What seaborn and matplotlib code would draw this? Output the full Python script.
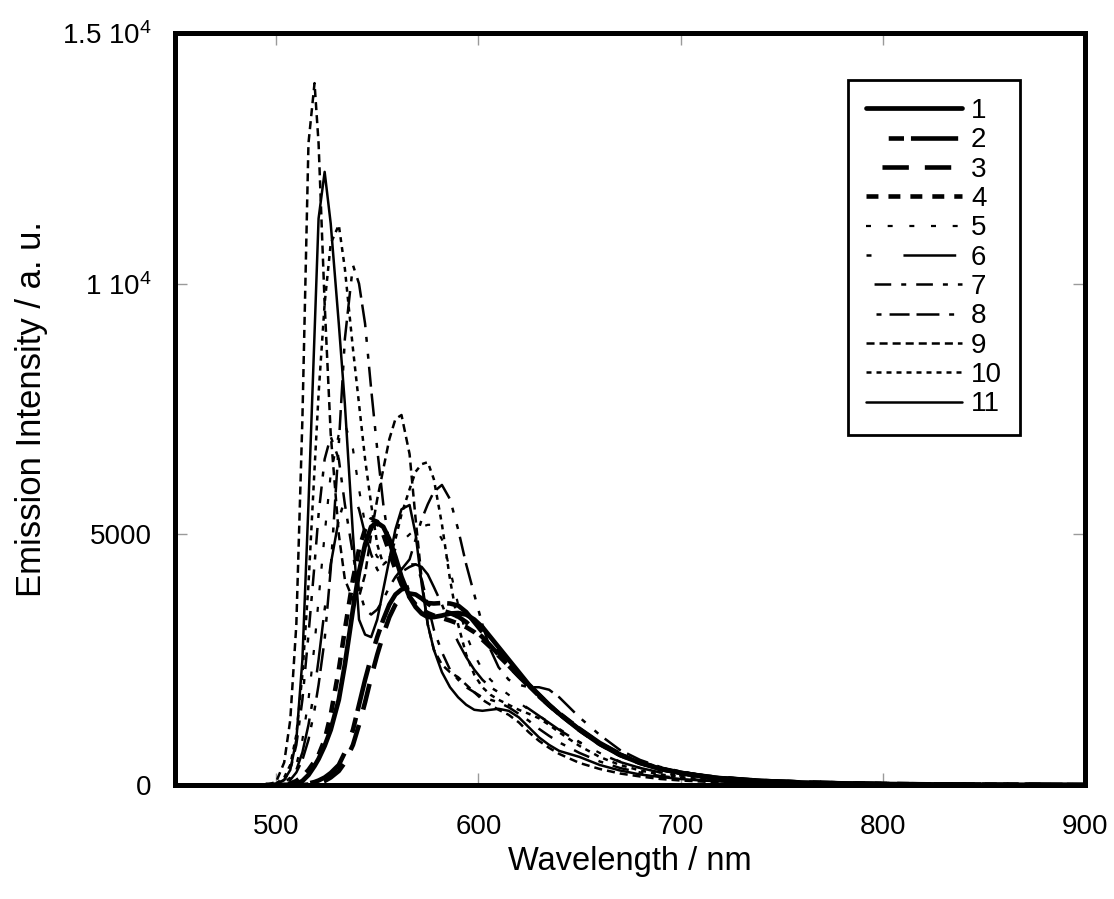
import matplotlib
matplotlib.use("Agg")
import matplotlib.pyplot as plt
import seaborn as sns

# ---------------- data ----------------
wavelength = [495, 500, 504, 507, 510, 513, 516, 519, 521, 524,
              527, 531, 534, 538, 541, 544, 547, 550, 553, 556,
              559, 562, 566, 569, 572, 575, 578, 582, 586, 590,
              594, 598, 602, 606, 610, 615, 620, 625, 630, 635,
              640, 650, 660, 670, 680, 690, 700, 710, 720, 740,
              760, 780, 800, 830, 860, 900]

c1 = [0, 0, 0, 0, 20, 80, 200, 380, 520, 780,
      1100, 1700, 2400, 3500, 4250, 4800, 5150, 5230, 5150, 4900,
      4550, 4150, 3750, 3550, 3420, 3350, 3350, 3380, 3420, 3430,
      3400, 3300, 3150, 2950, 2750, 2500, 2250, 2000, 1800, 1600,
      1420, 1100, 820, 600, 440, 320, 240, 180, 135, 80,
      50, 32, 20, 10, 5, 0]

c2 = [0, 0, 0, 0, 0, 10, 30, 60, 90, 150,
      240, 400, 650, 1100, 1600, 2100, 2550, 2950, 3300, 3600,
      3800, 3900, 3950, 3850, 3700, 3630, 3620, 3630, 3620, 3580,
      3450, 3250, 3050, 2850, 2650, 2420, 2200, 1990, 1790, 1600,
      1430, 1120, 840, 620, 450, 330, 245, 185, 140, 82,
      50, 32, 20, 10, 5, 0]

c3 = [0, 0, 0, 0, 0, 0, 10, 25, 40, 80,
      150, 280, 450, 800, 1200, 1650, 2150, 2600, 3000, 3350,
      3600, 3750, 3820, 3800, 3720, 3620, 3540, 3480, 3430, 3360,
      3250, 3100, 2950, 2780, 2600, 2380, 2170, 1970, 1770, 1590,
      1420, 1110, 830, 610, 445, 325, 240, 180, 135, 80,
      50, 32, 20, 10, 5, 0]

c4 = [0, 0, 10, 30, 80, 170, 300, 470, 600, 900,
      1400, 2300, 3100, 4100, 4700, 5100, 5300, 5250, 5000, 4650,
      4300, 4000, 3750, 3600, 3500, 3430, 3380, 3330, 3280, 3220,
      3150, 3050, 2900, 2750, 2580, 2380, 2180, 1980, 1780, 1590,
      1420, 1100, 820, 600, 440, 320, 240, 180, 135, 80,
      50, 32, 20, 10, 5, 0]

c5 = [0, 10, 50, 150, 400, 900, 1700, 2800, 3700, 5000,
      6200, 7000, 7200, 6700, 5900, 5200, 4800, 4550, 4500, 4550,
      4700, 4850, 5000, 5100, 5150, 5190, 5190, 4900, 4300, 3600,
      3000, 2600, 2300, 2100, 1950, 1800, 1650, 1500, 1380, 1250,
      1120, 860, 640, 470, 340, 250, 185, 140, 105, 62,
      38, 24, 15, 8, 4, 0]

c6 = [0, 10, 40, 120, 300, 650, 1200, 1900, 2500, 3500,
      4400, 5300, 5700, 5800, 5500, 5000, 4600, 4300, 4150, 4100,
      4150, 4250, 4350, 4400, 4350, 4200, 3950, 3600, 3200, 2850,
      2550, 2300, 2100, 1950, 1850, 1750, 1650, 1520, 1380, 1240,
      1100, 850, 630, 460, 340, 250, 185, 140, 105, 62,
      38, 24, 15, 8, 4, 0]

c7 = [0, 20, 100, 300, 800, 1700, 3000, 4400, 5400, 6500,
      6950, 6500, 5600, 4600, 3900, 3500, 3400, 3500, 3700, 3950,
      4150, 4300, 4400, 4400, 4100, 3600, 3100, 2650, 2300, 2100,
      1950, 1850, 1750, 1700, 1650, 1550, 1420, 1280, 1120, 980,
      850, 640, 470, 340, 250, 180, 135, 100, 75, 45,
      28, 18, 12, 6, 3, 0]

c8 = [0, 10, 40, 100, 250, 500, 900, 1500, 2000, 2900,
      4300, 6800, 8900, 10370, 10000, 9200, 7900, 6700, 5600, 4800,
      4400, 4300, 4500, 4900, 5300, 5600, 5850, 5985, 5700, 5100,
      4400, 3800, 3200, 2700, 2350, 2100, 2000, 1950, 1950, 1900,
      1750, 1350, 1000, 700, 500, 360, 270, 200, 150, 90,
      55, 35, 22, 12, 6, 0]

c9 = [0, 60, 450, 1300, 3200, 7300, 12800, 14000, 12800, 9600,
      7000, 5000, 4100, 3700, 3750, 4200, 5000, 5700, 6300, 6900,
      7300, 7380, 6600, 5300, 4100, 3200, 2700, 2400, 2250, 2150,
      2000, 1850, 1700, 1600, 1500, 1400, 1250, 1050, 880, 740,
      620, 440, 320, 230, 170, 120, 90, 70, 50, 30,
      20, 12, 8, 4, 2, 0]

c10 = [0, 30, 150, 400, 1000, 2200, 4000, 6300, 7800, 9600,
       10800, 11170, 10300, 8700, 7600, 6500, 5600, 4800, 4400, 4500,
       4900, 5400, 5900, 6250, 6400, 6440, 6100, 5200, 4100, 3200,
       2600, 2200, 1950, 1800, 1700, 1600, 1500, 1420, 1330, 1200,
       1050, 780, 560, 400, 290, 210, 160, 120, 90, 55,
       35, 22, 15, 8, 4, 0]

c11 = [0, 20, 100, 300, 900, 2500, 5600, 9000, 11300, 12230,
       11200, 9200, 7600, 5000, 3300, 3000, 2950, 3300, 3900, 4500,
       5100, 5500, 5585, 5000, 4000, 3200, 2700, 2250, 1950, 1750,
       1600, 1500, 1480, 1500, 1520, 1480, 1350, 1150, 950, 800,
       680, 560, 400, 290, 210, 160, 120, 90, 70, 45,
       28, 18, 12, 6, 3, 0]

series = [c1, c2, c3, c4, c5, c6, c7, c8, c9, c10, c11]
series_labels = ["1", "2", "3", "4", "5", "6", "7", "8", "9", "10", "11"]

x_ticks = [500, 600, 700, 800, 900]
y_ticks = [0, 5000, 10000, 15000]
y_tick_labels = ["0", "5000", "1 10$^{4}$", "1.5 10$^{4}$"]

# ---------------- style ----------------
sns.set_style("white")
plt.rcParams['font.family'] = ['Liberation Sans', 'DejaVu Sans']
plt.rcParams['mathtext.fontset'] = 'custom'
plt.rcParams['mathtext.rm'] = 'Liberation Sans'
plt.rcParams['mathtext.it'] = 'Liberation Sans'
plt.rcParams['mathtext.default'] = 'regular'
plt.rcParams['lines.scale_dashes'] = False
plt.rcParams['text.color'] = 'black'
plt.rcParams['axes.labelcolor'] = 'black'

line_styles = [
    (3.4, '-'),
    (3.3, (50, (11, 5, 34, 16))),
    (3.3, (19, (19, 11.5))),
    (3.3, (0, (8.6, 7.2))),
    (1.6, (0, (3.6, 12))),
    (1.8, (0, (3.6, 23, 38, 7))),
    (1.8, (5, (3.6, 7.2, 12, 7.2))),
    (1.8, (5, (3.6, 8.6, 3.6, 5.8, 14.4, 5, 16.5, 7))),
    (1.8, (0, (5.8, 3.6))),
    (1.8, (0, (3.6, 3.6))),
    (1.8, '-'),
]

fig = plt.figure(figsize=(11.14, 8.99), dpi=100)
ax = fig.add_axes([175 / 1114, 114 / 899, 910 / 1114, 752 / 899])

for vals, lab, (lw, ls) in zip(series, series_labels, line_styles):
    sns.lineplot(x=wavelength, y=vals, ax=ax, color="black", linewidth=lw,
                 linestyle=ls, label=lab, legend=False)

ax.set_xlim(450, 900)
ax.set_ylim(0, 15000)
ax.set_xticks(x_ticks)
ax.set_xticklabels([str(t) for t in x_ticks])
ax.set_yticks(y_ticks)
ax.set_yticklabels(y_tick_labels)

for sp in ax.spines.values():
    sp.set_visible(True)
    sp.set_color("black")
    sp.set_linewidth(3.6)

ax.tick_params(axis="both", which="major", direction="in", length=8.5, width=1.0,
               color="#9a9a9a", top=True, right=True, labelsize=20,
               labelcolor="black", bottom=True, left=True)
ax.tick_params(axis="x", pad=21)
ax.tick_params(axis="y", pad=17)

ax.set_xlabel("Wavelength / nm", fontsize=23.5, labelpad=4, color="black")
ax.set_ylabel("Emission Intensity / a. u.", fontsize=25, labelpad=10, color="black")

handles = ax.get_lines()[:len(series_labels)]
leg = ax.legend(handles, series_labels, loc="upper right",
                bbox_to_anchor=((1020 - 175) / 910, (785 - 80) / 752),
                borderaxespad=0, fontsize=20, handlelength=3.45,
                handletextpad=0.32, labelspacing=0.12, borderpad=0.65,
                frameon=True, fancybox=False, shadow=False, framealpha=1)
leg.get_frame().set_edgecolor("black")
leg.get_frame().set_linewidth(2.0)
for t in leg.get_texts():
    t.set_color("black")

fig.savefig("out.png", dpi=100)
